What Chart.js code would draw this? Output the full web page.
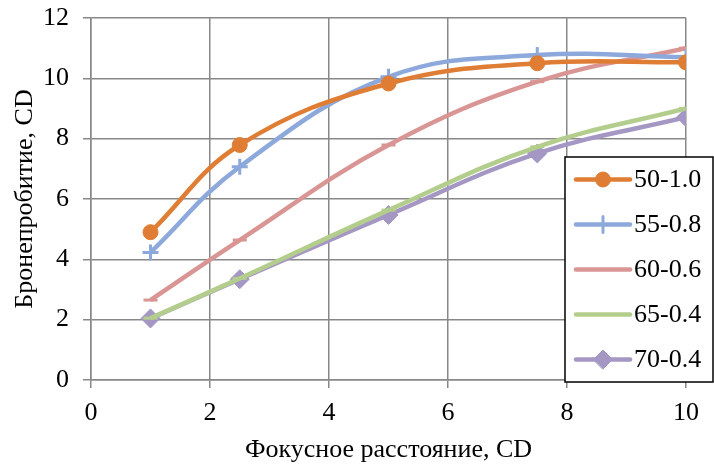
<!DOCTYPE html>
<html>
<head>
<meta charset="utf-8">
<script src="https://cdn.jsdelivr.net/npm/chart.js@4.4.1/dist/chart.umd.min.js"></script>
<style>
  body { margin: 0; background: #fff; }
  #wrap { width: 714px; height: 466px; }
</style>
</head>
<body>
<div id="wrap"><canvas id="canvas" width="714" height="466"></canvas></div>
<script>
// data
const xValues = [1, 2.5, 5, 7.5, 10];
const seriesNames = ['50-1.0', '55-0.8', '60-0.6', '65-0.4', '70-0.4'];
const s50 = [4.9, 7.79, 9.83, 10.5, 10.53];
const s55 = [4.23, 7.07, 10.05, 10.77, 10.7];
const s60 = [2.65, 4.64, 7.79, 9.89, 11.0];
const s65 = [2.05, 3.37, 5.63, 7.73, 9.0];
const s70 = [2.04, 3.34, 5.47, 7.51, 8.71];
const xTicks = [0, 2, 4, 6, 8, 10];
const yTicks = [0, 2, 4, 6, 8, 10, 12];

const serif = "'Liberation Serif', 'Times New Roman', serif";
const gridColor = '#888888';

function toPoints(vals) {
  return vals.map((v, i) => ({ x: xValues[i], y: v }));
}

const colors = ['#E07D34', '#8DA9DB', '#D99593', '#B3CE8C', '#A597C3'];
const styles = ['circle', 'cross', 'line', 'line', 'rectRot'];
const radii = [7.5, 8, 7, 7, 9.5];
const allValues = [s50, s55, s60, s65, s70];

const datasets = allValues.map((vals, i) => ({
  label: seriesNames[i],
  data: toPoints(vals),
  borderColor: colors[i],
  backgroundColor: colors[i],
  borderWidth: 4.5,
  tension: 0.4,
  pointStyle: styles[i],
  pointRadius: radii[i],
  pointBorderWidth: styles[i] == 'circle' || styles[i] == 'rectRot' ? 1 : 3,
  pointBorderColor: colors[i],
  pointBackgroundColor: colors[i]
}));

// legend box drawn inside the plot, like the original
const boxLegend = {
  id: 'boxLegend',
  afterDraw(chart) {
    const ctx = chart.ctx;
    const left = 565, top = 157, w = 148, h = 225;
    ctx.save();
    ctx.fillStyle = '#fff';
    ctx.fillRect(left, top, w, h);
    ctx.strokeStyle = '#000';
    ctx.lineWidth = 1.5;
    ctx.strokeRect(left, top, w, h);
    chart.data.datasets.forEach((ds, i) => {
      const y = top + 22.5 + i * 45;
      ctx.strokeStyle = ds.borderColor;
      ctx.lineWidth = 4.5;
      ctx.lineCap = 'round';
      ctx.beginPath();
      ctx.moveTo(576, y);
      ctx.lineTo(630, y);
      ctx.stroke();
      if (ds.pointStyle == 'circle' || ds.pointStyle == 'rectRot' || ds.pointStyle == 'cross') {
        ctx.fillStyle = ds.backgroundColor;
        ctx.strokeStyle = ds.borderColor;
        ctx.lineWidth = ds.pointBorderWidth;
        Chart.helpers.drawPoint(ctx, {
          pointStyle: ds.pointStyle,
          radius: ds.pointRadius,
          borderWidth: ds.pointBorderWidth
        }, 603, y);
      }
      ctx.fillStyle = '#000';
      ctx.font = '26px ' + serif;
      ctx.textBaseline = 'middle';
      ctx.textAlign = 'left';
      ctx.fillText(ds.label, 634, y + 1);
    });
    ctx.restore();
  }
};

const ctx = document.getElementById('canvas').getContext('2d');

new Chart(ctx, {
  type: 'line',
  data: { datasets: datasets },
  plugins: [boxLegend],
  options: {
    responsive: false,
    animation: false,
    layout: { padding: { top: 18, right: 28, left: 0, bottom: 0 } },
    plugins: {
      legend: { display: false },
      tooltip: { enabled: false }
    },
    scales: {
      x: {
        type: 'linear',
        min: 0,
        max: 10,
        afterBuildTicks: (scale) => { scale.ticks = xTicks.map(v => ({ value: v })); },
        afterFit: (scale) => { scale.height = 86; },
        grid: { color: gridColor, lineWidth: 1.5, tickLength: 8, tickColor: gridColor },
        border: { color: gridColor, width: 1.5 },
        ticks: { color: '#000', font: { family: serif, size: 26 }, padding: 10 },
        title: {
          display: true,
          text: 'Фокусное расстояние, CD',
          color: '#000',
          font: { family: serif, size: 26 },
          padding: 0
        }
      },
      y: {
        min: 0,
        max: 12,
        afterBuildTicks: (scale) => { scale.ticks = yTicks.map(v => ({ value: v })); },
        afterFit: (scale) => {
          scale.width = 91;
          scale.paddingTop = 0;
          scale.paddingBottom = 0;
        },
        grid: { color: gridColor, lineWidth: 1.5, tickLength: 8, tickColor: gridColor },
        border: { color: gridColor, width: 1.5 },
        ticks: { color: '#000', font: { family: serif, size: 26 }, padding: 14 },
        title: {
          display: true,
          text: 'Бронепробитие, CD',
          color: '#000',
          font: { family: serif, size: 26 },
          padding: 10
        }
      }
    }
  }
});
</script>
</body>
</html>
